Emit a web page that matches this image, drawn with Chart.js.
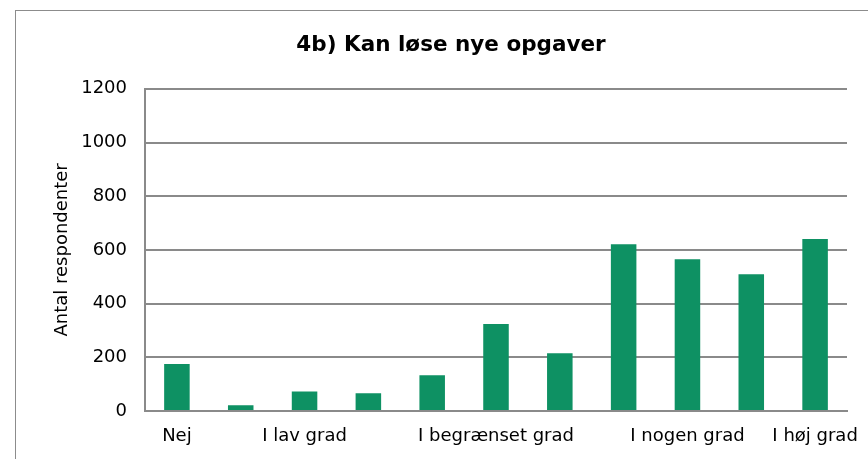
<!DOCTYPE html>
<html>
<head>
<meta charset="utf-8">
<script src="https://cdn.jsdelivr.net/npm/chart.js@4/dist/chart.umd.min.js"></script>
<style>
  html, body { margin: 0; padding: 0; background: #fff; overflow: hidden; width: 868px; height: 459px; }
  #box { position: absolute; left: 15px; top: 10px; width: 870px; height: 460px; border: 1px solid #8c8c8c; }
  #wrap { position: absolute; left: 16px; top: 11px; width: 870px; height: 448px; }
</style>
</head>
<body>
<div id="box"></div>
<div id="wrap"><canvas id="chart"></canvas></div>
<script>
// Kategorier (0-10 skala), kun nogle har tekst
const categories = ["Nej", "", "I lav grad", "", "", "I begrænset grad", "", "", "I nogen grad", "", "I høj grad"];
const respondents = [175, 21, 73, 66, 133, 324, 215, 621, 565, 509, 641];
const yTicks = [0, 200, 400, 600, 800, 1000, 1200];

const font = "'DejaVu Sans', Verdana, sans-serif";
const gridGrey = "#8a8a8a";

const ctx = document.getElementById("chart").getContext("2d");
new Chart(ctx, {
  type: "bar",
  data: {
    labels: categories,
    datasets: [{
      label: "Antal respondenter",
      data: respondents,
      backgroundColor: "#0e9163",
      borderWidth: 0,
      barPercentage: 0.4,
      categoryPercentage: 1.0
    }]
  },
  options: {
    responsive: true,
    maintainAspectRatio: false,
    animation: false,
    layout: { padding: { left: 39, right: 39, top: 0, bottom: 0 } },
    plugins: {
      legend: { display: false },
      tooltip: { enabled: false },
      title: {
        display: true,
        text: "4b) Kan løse nye opgaver",
        color: "#000",
        font: { family: font, size: 21.5, weight: "bold" },
        padding: { top: 22, bottom: 30 }
      }
    },
    scales: {
      y: {
        min: 0,
        max: 1200,
        afterBuildTicks: function (scale) {
          scale.ticks = yTicks.map(v => ({ value: v }));
        },
        afterFit: function (scale) { scale.width = 90; },
        grid: { color: gridGrey, lineWidth: 2, drawTicks: false },
        border: { display: true, color: gridGrey, width: 2 },
        ticks: {
          color: "#000",
          padding: 18,
          font: { family: font, size: 18 },
          callback: function (value) { return String(value); }
        },
        title: {
          display: true,
          text: "Antal respondenter",
          color: "#000",
          font: { family: font, size: 18, lineHeight: 1 },
          padding: { top: -2, bottom: 0 }
        }
      },
      x: {
        afterFit: function (scale) { scale.height = 48; },
        grid: { display: false, drawTicks: false },
        border: { display: true, color: gridGrey, width: 2 },
        ticks: {
          color: "#000",
          padding: 15,
          autoSkip: false,
          maxRotation: 0,
          font: { family: font, size: 18 }
        }
      }
    }
  }
});
</script>
</body>
</html>
